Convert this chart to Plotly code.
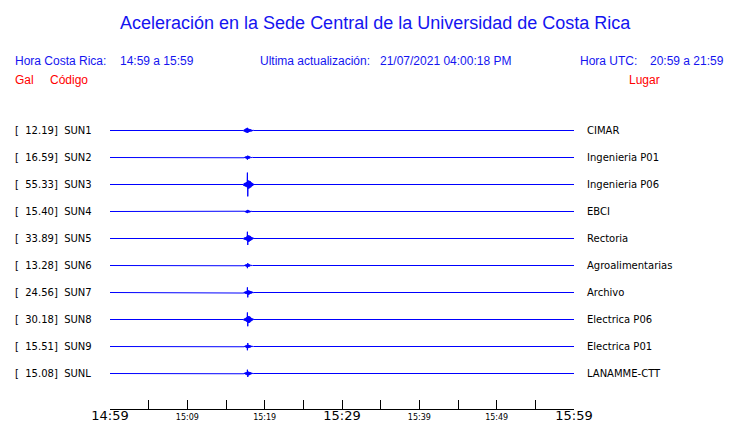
import plotly.graph_objects as go
import pandas as pd

# ---------------- data ----------------
title_text = "Aceleración en la Sede Central de la Universidad de Costa Rica"
hora_cr_label = "Hora Costa Rica:"
hora_cr_range = "14:59 a 15:59"
update_label = "Ultima actualización:"
update_value = "21/07/2021 04:00:18 PM"
utc_label = "Hora UTC:"
utc_range = "20:59 a 21:59"
col_gal = "Gal"
col_code = "Código"
col_place = "Lugar"

codes = ["SUN1", "SUN2", "SUN3", "SUN4", "SUN5", "SUN6", "SUN7", "SUN8", "SUN9", "SUNL"]
gals = [12.19, 16.59, 55.33, 15.40, 33.89, 13.28, 24.56, 30.18, 15.51, 15.08]
places = ["CIMAR", "Ingenieria P01", "Ingenieria P06", "EBCI", "Rectoria",
          "Agroalimentarias", "Archivo", "Electrica P06", "Electrica P01", "LANAMME-CTT"]

window_start = "2021-07-21 14:59:00"
window_end = "2021-07-21 15:59:00"
event_start = "2021-07-21 15:16:16"

tick_times = ["14:59", "15:04", "15:09", "15:14", "15:19", "15:24", "15:29",
              "15:34", "15:39", "15:44", "15:49", "15:54", "15:59"]
tick_labels = ["14:59", "", "15:09", "", "15:19", "", "15:29",
               "", "15:39", "", "15:49", "", "15:59"]
big_tick_labels = ["14:59", "15:29", "15:59"]

# burst sample offsets (s) after event_start
burst_offsets_s = [0, 3, 6, 9, 12, 15, 18, 21, 24, 27, 30, 33, 36, 39,
                   42, 45, 48, 51, 54, 57, 60, 63, 66, 69, 72, 75, 78, 81]

# burst samples per station (relative units, 1 = spacing between traces)
bursts = {
    "SUN1": [0.0, -0.03, 0.03, -0.04, 0.05, -0.06, 0.07, -0.07, 0.08, -0.08, 0.10, -0.09,
             0.07, -0.06, 0.06, -0.05, 0.05, -0.04, 0.04, -0.03, 0.03, -0.03, 0.02, -0.02,
             0.02, -0.01, 0.01, 0.0],
    "SUN2": [0.0, 0.01, -0.01, 0.02, -0.02, 0.03, -0.03, 0.04, -0.04, 0.05, -0.08, 0.07,
             -0.05, 0.05, -0.04, 0.04, -0.03, 0.03, -0.02, 0.02, -0.02, 0.01, -0.01, 0.01,
             0.0, 0.0, 0.0, 0.0],
    "SUN3": [0.0, -0.05, 0.05, -0.06, 0.06, -0.07, 0.07, -0.08, 0.09, -0.10, 0.44, -0.44,
             0.15, -0.15, 0.14, -0.14, 0.13, -0.12, 0.11, -0.10, 0.08, -0.07, 0.06, -0.05,
             0.04, -0.03, 0.02, 0.0],
    "SUN4": [0.0, 0.01, -0.01, 0.01, -0.02, 0.02, -0.03, 0.03, -0.04, 0.04, -0.06, 0.06,
             -0.04, 0.04, -0.03, 0.03, -0.03, 0.02, -0.02, 0.02, -0.01, 0.01, 0.0, 0.0,
             0.0, 0.0, 0.0, 0.0],
    "SUN5": [0.0, -0.03, 0.03, -0.04, 0.04, -0.05, 0.05, -0.06, 0.07, -0.08, 0.25, -0.24,
             0.12, -0.12, 0.11, -0.11, 0.10, -0.09, 0.08, -0.07, 0.06, -0.05, 0.04, -0.03,
             0.03, -0.02, 0.01, 0.0],
    "SUN6": [0.0, 0.01, -0.01, 0.02, -0.02, 0.03, -0.03, 0.04, -0.04, 0.05, -0.10, 0.09,
             -0.05, 0.05, -0.04, 0.04, -0.03, 0.03, -0.02, 0.02, -0.02, 0.01, -0.01, 0.0,
             0.0, 0.0, 0.0, 0.0],
    "SUN7": [0.0, -0.02, 0.02, -0.03, 0.03, -0.04, 0.04, -0.05, 0.05, -0.06, 0.19, -0.18,
             0.08, -0.08, 0.07, -0.07, 0.06, -0.05, 0.05, -0.04, 0.04, -0.03, 0.03, -0.02,
             0.02, -0.01, 0.0, 0.0],
    "SUN8": [0.0, -0.03, 0.03, -0.04, 0.04, -0.05, 0.06, -0.07, 0.08, -0.09, 0.26, -0.25,
             0.13, -0.13, 0.12, -0.12, 0.11, -0.10, 0.08, -0.07, 0.06, -0.05, 0.04, -0.03,
             0.03, -0.02, 0.01, 0.0],
    "SUN9": [0.0, 0.01, -0.01, 0.02, -0.02, 0.03, -0.03, 0.04, -0.05, 0.06, -0.14, 0.13,
             -0.06, 0.06, -0.05, 0.05, -0.04, 0.04, -0.03, 0.03, -0.02, 0.02, -0.02, 0.01,
             -0.01, 0.0, 0.0, 0.0],
    "SUNL": [0.0, -0.01, 0.02, -0.02, 0.03, -0.03, 0.04, -0.04, 0.05, -0.06, 0.14, -0.13,
             0.07, -0.07, 0.06, -0.06, 0.05, -0.04, 0.04, -0.03, 0.03, -0.02, 0.02, -0.01,
             0.01, 0.0, 0.0, 0.0],
}

# ---------------- layout constants ----------------
OFF = 8                      # page body margin of the browser
W, H = 740 - OFF, 423 - OFF  # figure size so that it fits the window
# plot area in reference-window pixels
RL, RR, RT, RB = 110, 574, 103, 409
PL, PR, PT, PB = RL - OFF, RR - OFF, RT - OFF, RB - OFF
ROW = 27.0                   # pixels between traces
BLUE = "#0000ff"
TXT_BLUE = "#1414f0"
RED = "#ff0000"
APAD = 2                     # annotation inner padding
NB = "\u00a0"


def px_x(p):
    """reference window pixel x -> paper coordinate"""
    return (p - APAD - RL) / (RR - RL)


def px_y(p):
    """reference window pixel y -> paper coordinate"""
    return (RB - p) / (RB - RT)


fig = go.Figure()

t0 = pd.Timestamp(window_start)
t1 = pd.Timestamp(window_end)
te = pd.Timestamp(event_start)

for i, code in enumerate(codes):
    xs = [t0] + [te + pd.Timedelta(seconds=s) for s in burst_offsets_s] + [t1]
    ys = [-i] + [-i + v for v in bursts[code]] + [-i]
    fig.add_trace(go.Scatter(x=xs, y=ys, mode="lines",
                             line=dict(color=BLUE, width=1),
                             hoverinfo="skip", showlegend=False))

annotations = []
for i, code in enumerate(codes):
    label = f"[{NB}{NB}{gals[i]:.2f}]{NB}{NB}{code}"
    annotations.append(dict(text=label, xref="paper", yref="y",
                            x=px_x(15), y=-i, xanchor="left", yanchor="middle",
                            showarrow=False,
                            font=dict(family="DejaVu Sans", size=10, color="black")))
    annotations.append(dict(text=places[i], xref="paper", yref="y",
                            x=px_x(587), y=-i, xanchor="left", yanchor="middle",
                            showarrow=False,
                            font=dict(family="DejaVu Sans", size=10, color="black")))

hdr_font = dict(family="Liberation Sans", size=12, color=TXT_BLUE)
red_font = dict(family="Liberation Sans", size=12, color=RED)
header = [
    (hora_cr_label, 15, 61, hdr_font),
    (hora_cr_range, 120, 61, hdr_font),
    (update_label, 260, 61, hdr_font),
    (update_value, 380, 61, hdr_font),
    (utc_label, 580, 61, hdr_font),
    (utc_range, 650, 61, hdr_font),
    (col_gal, 15, 80, red_font),
    (col_code, 50, 80, red_font),
    (col_place, 629, 80, red_font),
]
for txt, x, y, f in header:
    annotations.append(dict(text=txt, xref="paper", yref="paper", x=px_x(x), y=px_y(y),
                            xanchor="left", yanchor="middle", showarrow=False, font=f))

annotations.append(dict(text=title_text, xref="paper", yref="paper",
                        x=(375 - RL) / (RR - RL), y=px_y(22.5), xanchor="center",
                        yanchor="middle", showarrow=False,
                        font=dict(family="Liberation Sans", size=18, color=TXT_BLUE)))

day = window_start.split(" ")[0]
tickvals = [pd.Timestamp(f"{day} {t}:00") for t in tick_times]
ticktext = [f'<span style="font-size:13px">{t}</span>' if t in big_tick_labels else t
            for t in tick_labels]

y_top = 1 + 0.5 / ROW        # half-pixel shift so 1px lines are crisp
y_bot = y_top - (RB - RT) / ROW

fig.update_layout(
    width=W, height=H, autosize=False,
    margin=dict(l=PL, r=W - PR, t=PT, b=H - PB, pad=0, autoexpand=False),
    paper_bgcolor="white", plot_bgcolor="white",
    annotations=annotations,
    xaxis=dict(type="date", range=[t0, t1], tickvals=tickvals, ticktext=ticktext,
               ticks="inside", ticklen=9, tickwidth=1, tickcolor="black",
               showline=True, linecolor="black", linewidth=1,
               showgrid=False, zeroline=False, automargin=False,
               tickfont=dict(family="DejaVu Sans", size=8, color="black")),
    yaxis=dict(range=[y_bot, y_top], showticklabels=False, showgrid=False,
               zeroline=False, showline=False, ticks="", automargin=False),
)

fig.write_html("out.html")
